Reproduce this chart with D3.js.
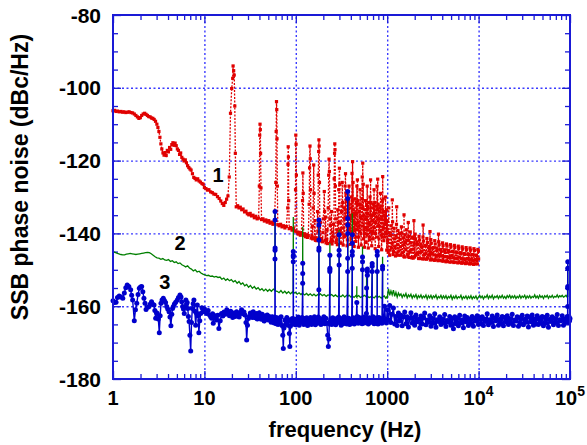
<!DOCTYPE html>
<html><head><meta charset="utf-8">
<script src="https://cdn.jsdelivr.net/npm/d3@7"></script>
<style>
body{margin:0;background:#fff}
svg{display:block}
text{font-family:"Liberation Sans",Arial,Helvetica,sans-serif;font-weight:bold;fill:#000}
</style>
</head><body>
<svg id="chart" width="587" height="445"></svg>
<script>
// ---------- axis definitions ----------
const xTickValues = [1, 10, 100, 1000, 1e4, 1e5];
const xTickLabels = ["1", "10", "100", "1000", "10^4", "10^5"];
const yTickValues = [-180, -160, -140, -120, -100, -80];
const xTitle = "frequency (Hz)";
const yTitle = "SSB phase noise (dBc/Hz)";
const seriesNames = ["1", "2", "3"];

// ---------- series 1 (red) ----------
const redLow = [
[1.00,-106.3],[1.04,-106.2],[1.08,-106.5],[1.12,-106.4],[1.17,-106.6],[1.22,-106.5],[1.27,-106.7],[1.32,-106.6],[1.38,-106.8],[1.44,-106.7],
[1.50,-106.6],[1.57,-106.8],[1.64,-106.9],[1.71,-107.2],[1.78,-107.6],[1.85,-108.0],[1.92,-108.4],[1.99,-108.2],[2.06,-107.6],[2.14,-107.2],
[2.22,-107.0],[2.30,-107.3],[2.38,-107.6],[2.46,-107.9],[2.55,-108.0],[2.64,-108.3],[2.73,-108.4],[2.82,-108.7],[2.92,-109.2],[3.02,-110.0],
[3.10,-110.9],[3.18,-112.0],[3.26,-113.6],[3.34,-115.4],[3.42,-116.8],[3.52,-117.9],[3.62,-118.5],[3.72,-117.8],[3.82,-118.6],[3.93,-117.2],
[4.04,-117.6],[4.16,-116.4],[4.28,-116.9],[4.40,-115.6],[4.52,-115.1],[4.65,-115.8],[4.78,-115.2],[4.92,-115.9],[5.06,-116.8],[5.20,-117.2],
[5.35,-118.3],[5.50,-117.9],[5.66,-119.1],[5.83,-119.6],[6.00,-120.1],[6.18,-119.8],[6.36,-120.6],[6.55,-121.4],[6.75,-121.9],[6.95,-122.3],
[7.15,-122.6],[7.40,-123.6],[7.65,-124.6],[7.90,-124.9],[8.15,-125.3],[8.45,-125.0],[8.75,-125.6],[9.05,-125.9],[9.40,-126.3],[9.70,-126.5],
[10.0,-127.4],[10.4,-127.7],[10.8,-128.1],[11.2,-128.0],[11.7,-128.6],[12.2,-128.8],[12.7,-129.2],[13.3,-129.3],[13.9,-129.9],[14.5,-130.4],
[15.1,-131.1],[15.7,-131.8],[16.3,-132.3],[16.9,-131.5],[17.5,-130.6],[18.1,-129.7],[18.7,-124.5],[19.3,-107.0],[19.9,-100.2],[20.4,-97.4],
[20.6,-94.0],[20.9,-95.3],[21.2,-96.5],[21.5,-105.0],[21.8,-118.0],[22.3,-132.7],[23.1,-132.4],[23.9,-133.0],[24.7,-132.8],[25.6,-133.5],
[26.5,-133.3],[27.5,-134.1],[28.5,-133.9],[29.5,-134.6],[30.6,-134.9],[31.7,-134.5],[32.8,-135.2],[34.0,-135.0],[35.2,-135.7],[36.5,-135.3],
[37.8,-136.0],[39.2,-135.8],[39.9,-127.0],[40.3,-113.0],[40.6,-110.0],[40.9,-111.5],[41.2,-118.0],[41.6,-127.5],[42.2,-136.2],[43.7,-136.0],
[45.3,-136.6],[47.0,-136.3],[48.7,-136.9],[50.5,-136.5],[52.3,-137.2],[54.2,-136.9],[56.2,-137.5],[58.3,-137.2],[60.4,-126.0],[61.0,-112.0],
[61.5,-103.8],[61.9,-106.0],[62.3,-114.0],[62.8,-127.0],[63.5,-137.6],[65.8,-137.9],[68.2,-137.5],[70.7,-138.2],[73.3,-137.9],[76.0,-138.5],
[78.8,-138.1],[81.6,-133.0],[82.2,-121.0],[82.6,-116.2],[83.0,-119.0],[83.6,-131.0],[84.7,-138.7],[87.8,-138.4],[91.0,-139.1],[94.3,-138.7],
[97.7,-139.4],[99.3,-128.0],[100.0,-113.0],[100.7,-115.5],[101.5,-124.0]
];
const redMid = [
[103,-139.6],[106,-140.2],[109,-139.7],[112,-140.5],[115,-140.0],[118.5,-131.0],[119.5,-123.4],[120.5,-129.0],[122,-140.6],[125,-140.1],
[128,-140.9],[131,-140.4],[134,-141.1],[137,-140.6],[140,-132.0],[141.5,-122.0],[143,-116.0],[144,-119.5],[145,-128.0],[147,-141.3],
[150,-140.8],[153,-141.5],[155,-133.0],[157,-121.2],[158.5,-129.0],[161,-141.2],[164,-141.9],[167,-141.3],[170,-142.0],[173,-134.0],
[176,-124.0],[178,-117.5],[179,-114.3],[180,-116.0],[181.5,-126.0],[184,-141.6],[188,-142.1],[192,-141.4],[196,-142.3],[200,-136.0],
[205,-128.5],[207,-134.0],[210,-141.9],[214,-142.6],[218,-141.7],[222,-142.8],[226,-133.0],[229,-124.0],[231,-119.6],[233,-123.0],
[236,-136.0],[240,-142.4],[244,-141.6],[249,-142.9],[254,-142.1],[259,-137.5],[263,-125.0],[265.5,-118.0],[267,-115.4],[268.5,-117.0],
[271,-127.0],[275,-142.5],[280,-141.8],[285,-143.1],[290,-137.0],[295,-128.0],[300,-122.1],[303,-126.5],[307,-139.0],[312,-142.7],
[317,-134.0],[322,-126.0],[326,-131.5],[330,-143.2],[335,-141.0],[340,-136.0],[346,-127.0],[350,-123.6],[354,-129.0],[359,-140.5],
[364,-143.4],[369,-138.0],[375,-131.0],[382,-127.0],[388,-133.0],[394,-143.0],[400,-139.5],[406,-130.0],[412,-123.5],[418,-120.3],
[423,-126.0],[429,-137.0],[435,-143.6],[441,-139.0],[447,-134.5],[453,-142.2],[460,-131.5],[466,-127.0],[472,-125.3],[478,-131.0],
[484,-143.8],[490,-138.0],[497,-132.0],[505,-128.0],[512,-135.5],[519,-143.2],[526,-133.0],[533,-124.5],[540,-120.7],[547,-126.5],
[555,-139.0],[563,-143.8],[571,-136.0],[579,-131.0],[588,-142.5],[596,-132.0],[604,-127.0],[612,-133.0],[621,-144.0],[630,-137.5],
[639,-141.8],[648,-130.0],[658,-125.3],[667,-131.5],[677,-143.4],[687,-135.0],[697,-139.5],[707,-132.0],[718,-128.0],[728,-134.5],
[739,-144.2],[750,-137.0],[761,-132.5],[773,-127.0],[787,-125.1],[797,-132.0],[808,-143.6],[820,-138.0],[832,-133.0],[845,-129.0],
[857,-136.0],[870,-144.5],[883,-131.0],[893,-124.4],[905,-130.5],[918,-142.0],[932,-137.5],[946,-134.0],[960,-130.0],[974,-137.0],
[988,-144.6]
];
const redMidExtra = [
[152,-138.0],[162,-136.5],[175,-139.5],[186,-137.0],[198,-139.8],[212,-135.5],[220,-139.0],[238,-137.8],[246,-134.0],[252,-139.6],
[261,-141.0],[273,-136.0],[282,-139.0],[288,-133.5],[293,-140.5],[305,-137.0],[315,-140.0],[320,-132.5],[328,-138.5],[338,-133.0],
[343,-140.8],[352,-135.5],[357,-131.0],[361,-137.5],[367,-141.8],[372,-134.0],[379,-139.0],[385,-132.0],[391,-138.5],[397,-135.0],
[403,-141.5],[409,-136.0],[415,-131.0],[421,-139.5],[426,-133.5],[432,-140.2],[438,-135.0],[444,-130.5],[450,-137.5],[456,-141.0],
[463,-134.5],[469,-139.0],[475,-132.0],[481,-137.0],[487,-141.0],[494,-134.0],[501,-139.5],[508,-132.0],[515,-140.0],[522,-136.0],
[529,-130.5],[536,-138.0],[543,-133.0],[551,-141.5],[559,-135.0],[567,-140.0],[575,-133.5],[584,-138.5],[592,-136.0],[600,-140.5],
[608,-134.5],[617,-139.0],[625,-131.5],[634,-137.0],[643,-141.0],[653,-135.0],[662,-139.5],[672,-133.0],[682,-140.0],[692,-136.5],
[702,-141.5],[712,-134.5],[723,-138.5],[733,-131.5],[744,-140.0],[755,-135.5],[767,-141.0],[780,-133.5],[792,-138.0],[803,-136.0],
[814,-141.5],[826,-134.0],[838,-139.5],[851,-132.5],[863,-140.5],[876,-136.0],[888,-141.0],[899,-134.0],[911,-138.5],[925,-135.0],
[939,-141.0],[953,-136.5],[967,-140.0],[981,-133.5],[994,-139.0]
];
const redBand = [
[1000,-136.5],[1025,-145.2],[1040,-133.0],[1051,-139.8],[1077,-144.6],[1104,-137.9],[1131,-142.7],[1137,-130.8],[1160,-145.8],[1189,-138.6],
[1218,-143.9],[1249,-140.7],[1270,-132.7],[1280,-145.5],[1312,-139.2],[1345,-144.8],[1379,-141.6],[1413,-146.0],[1448,-139.9],[1485,-143.2],
[1522,-146.3],[1528,-134.9],[1560,-140.4],[1599,-144.5],[1639,-141.9],[1680,-146.4],[1700,-137.0],[1722,-140.8],[1765,-145.1],[1809,-142.6],
[1854,-146.7],[1900,-141.2],[1948,-144.3],[1960,-136.5],[1996,-146.5],[2046,-141.5],[2098,-145.6],[2150,-143.0],[2204,-146.9],[2259,-141.8],
[2315,-145.2],[2373,-143.7],[2433,-147.0],[2470,-137.7],[2493,-142.1],[2556,-145.8],[2620,-143.4],[2685,-147.1],[2752,-142.5],[2821,-146.0],
[2892,-144.2],[2940,-139.5],[2964,-147.3],[3038,-142.7],[3114,-145.5],[3192,-143.9],[3271,-147.4],[3353,-142.9],[3437,-146.3],[3523,-144.6],
[3611,-147.5],[3640,-140.2],[3701,-143.1],[3794,-146.0],[3889,-144.8],[3986,-147.6],[4085,-143.3],[4188,-146.4],[4292,-145.0],[4400,-147.8],
[4510,-143.5],[4622,-146.6],[4738,-145.1],[4856,-147.9],[4978,-143.7],[5102,-146.2],[5230,-144.9],[5360,-148.0],[5494,-143.9],[5632,-146.8],
[5773,-145.3],[5917,-148.1],[6065,-144.1],[6217,-146.5],[6372,-145.4],[6531,-148.2],[6695,-144.3],[6862,-147.0],[7034,-145.7],[7209,-148.3],
[7390,-144.5],[7574,-146.9],[7764,-145.8],[7958,-148.4],[8157,-144.6],[8360,-147.1],[8569,-145.9],[8784,-148.5],[9003,-144.7],[9229,-147.2],
[9459,-146.0],[9696,-148.4],[9938,-144.8],[10000,-147.0]
];
const redBandExtra = [
[1012,-142.0],[1064,-146.0],[1090,-140.6],[1117,-144.0],[1145,-136.8],[1174,-145.0],[1203,-141.5],[1233,-146.2],[1264,-137.5],[1296,-143.1],
[1328,-146.0],[1362,-140.0],[1396,-143.7],[1430,-138.2],[1466,-145.3],[1503,-141.2],[1541,-146.5],[1580,-142.6],[1619,-139.0],[1660,-145.7],
[1701,-142.0],[1743,-146.6],[1787,-139.6],[1831,-144.5],[1877,-141.0],[1924,-146.8],[1972,-143.0],[2021,-140.2],[2072,-146.0],[2124,-142.3],
[2177,-145.3],[2231,-140.8],[2287,-146.9],[2344,-142.9],[2403,-144.9],[2463,-141.0],[2524,-147.0],[2588,-143.3],[2652,-145.4],[2718,-141.4],
[2786,-146.8],[2856,-143.6],[2928,-145.6],[3001,-141.7],[3076,-147.2],[3153,-144.1],[3231,-145.9],[3312,-142.0],[3395,-147.3],[3480,-144.0],
[3567,-146.0],[3656,-142.3],[3747,-147.4],[3841,-144.4],[3937,-146.2],[4035,-142.6],[4136,-147.6],[4240,-144.5],[4346,-146.4],[4455,-142.9],
[4566,-147.7],[4680,-144.7],[4797,-146.6],[4917,-143.1],[5040,-147.8],[5166,-145.0],[5295,-146.7],[5427,-143.3],[5563,-147.9],[5702,-145.1],
[5845,-146.9],[5991,-143.5],[6141,-148.0],[6294,-145.3],[6452,-147.0],[6613,-143.7],[6778,-148.1],[6948,-145.5],[7121,-147.2],[7299,-143.9],
[7482,-148.2],[7669,-145.6],[7861,-147.3],[8057,-144.0],[8258,-148.3],[8465,-145.8],[8676,-147.4],[8893,-144.2],[9116,-148.4],[9343,-146.0],
[9577,-147.5],[9816,-144.4]
];

// ---------- series 2 (green) ----------
const greenLow = [
[1.00,-145.0],[1.05,-145.2],[1.10,-145.4],[1.16,-145.6],[1.22,-145.8],[1.28,-145.9],[1.34,-145.9],[1.40,-145.7],[1.47,-145.6],[1.54,-145.5],
[1.62,-145.6],[1.70,-145.7],[1.78,-145.8],[1.87,-145.7],[1.96,-145.6],[2.06,-145.5],[2.16,-145.4],[2.27,-145.3],[2.38,-145.2],[2.50,-145.3],
[2.62,-145.6],[2.75,-146.0],[2.89,-146.4],[3.03,-146.7],[3.18,-146.8],[3.34,-147.1],[3.51,-146.9],[3.68,-147.3],[3.86,-147.4],[4.05,-147.2],
[4.25,-147.7],[4.46,-147.5],[4.68,-148.0],[4.91,-147.8],[5.15,-148.3],[5.40,-148.1],[5.67,-148.6],[5.95,-148.9],[6.24,-149.2],[6.55,-148.9],
[6.87,-149.5],[7.21,-149.8],[7.57,-150.3],[7.94,-150.0],[8.33,-150.6],[8.74,-150.4],[9.17,-150.9],[9.62,-151.2],[10.1,-151.4],[10.6,-151.6],
[11.1,-151.5],[11.6,-151.8],[12.2,-151.7],[12.8,-152.0],[13.4,-151.8],[14.1,-152.1],[14.8,-152.0],[15.5,-152.6],[16.3,-152.3],[17.1,-152.9],
[17.9,-152.5],[18.8,-153.0],[19.7,-152.7],[20.7,-153.3],[21.7,-153.0],[22.8,-153.7],[23.9,-153.2],[25.1,-154.0],[26.3,-153.6],[27.6,-154.4],
[29.0,-154.0],[30.4,-154.8],[31.9,-154.3],[33.5,-155.1],[35.2,-154.6],[36.9,-155.3],[38.7,-154.9],[40.6,-155.6],[42.6,-155.2],[44.7,-155.8],
[46.9,-155.3],[49.2,-155.9],[51.6,-155.4],[54.1,-155.9],[56.8,-155.3],[59.0,-155.7],[59.3,-134.5],[59.6,-155.8],[62.5,-155.9],[65.6,-156.3],
[68.8,-155.7],[72.2,-156.4],[75.7,-155.9],[79.4,-156.5],[83.3,-156.0],[87.4,-156.6],[91.7,-156.1],[93.6,-156.4],[93.9,-135.5],[94.2,-156.5],
[98.7,-156.2],[103.5,-156.7],[108.6,-156.3],[113.9,-156.8],[118.7,-156.4],[119.0,-138.2],[119.3,-156.5],[125,-156.9],[131,-156.5],[137,-157.0],
[144,-156.6],[151,-157.1],[158,-156.7],[166,-157.2],[174,-156.8],[178.7,-156.9],[179,-135.9],[179.3,-157.0],[186,-156.6],[195,-157.1],
[205,-156.8],[215,-157.3],[225,-156.9],[235.7,-157.0],[236,-142.7],[236.3,-157.1],[247,-156.8],[259,-157.3],[272,-156.9],[285,-157.4],
[297.7,-157.0],[298,-139.0],[298.3,-157.1],[312,-157.4],[327,-156.9],[343,-157.5],[359,-157.0],[369.7,-157.2],[370,-129.0],[370.3,-157.3],
[385,-157.0],[401,-157.5],[414.7,-157.1],[415,-134.5],[415.3,-157.2],[434,-157.6],[455,-157.1],[464.7,-157.5],[465,-154.5],[465.3,-157.4],
[487,-157.1],[510,-157.6],[536.7,-157.3],[537,-143.6],[537.3,-157.4],[563,-157.0],[594.7,-157.5],[595,-152.0],[595.3,-157.4],[606.7,-157.3],
[607,-150.0],[607.3,-157.4],[640,-157.6],[684.7,-157.2],[685,-148.2],[685.3,-157.4],[720,-157.7],[750,-157.2],[777.7,-157.5],[778,-145.5],
[778.3,-157.6],[820,-157.3],[860,-157.8],[889.7,-157.4],[890,-146.4],[890.3,-157.5],[930,-157.2],[960,-157.8],[990,-157.4]
];

// shared frequency bins of the 1 kHz - 94 kHz record (series 2 and 3)
const hfFreq = [
1000,1032,1065,1099,1134,1170,1208,1246,1286,1327,1370,
1414,1459,1506,1554,1603,1655,1708,1762,1818,1877,1937,1999,
2063,2129,2197,2267,2340,2414,2492,2571,2654,2739,2826,
2917,3010,3106,3206,3308,3414,3523,3636,3752,3872,3996,
4124,4256,4392,4532,4677,4827,4981,5141,5305,5475,5650,
5831,6017,6210,6408,6613,6825,7043,7269,7501,7741,7989,
8244,8508,8780,9061,9351,9650,9959,10277,10606,10946,
11296,11658,12031,12416,12813,13223,13646,14083,14533,14998,
15478,15974,16485,17012,17557,18118,18698,19296,19914,20551,
21209,21887,22588,23311,24057,24826,25621,26441,27287,
28160,29061,29991,30951,31941,32963,34018,35107,36230,
37390,38586,39821,41095,42410,43767,45168,46613,48105,
49644,51233,52872,54564,56310,58112,59972,61891,63871,
65915,68025,70201,72448,74766,77159,79628,82176,84805,
87519,90320,93210,94000
];
const greenHF = [
-157.9,-155.2,-157.0,-155.8,-156.9,-155.6,-157.3,-156.2,-157.5,-156.4,-157.1,
-156.6,-157.6,-156.8,-157.3,-156.5,-157.7,-156.9,-157.4,-156.7,-157.8,-157.0,-157.5,
-156.8,-157.9,-157.1,-157.6,-156.9,-157.8,-157.2,-157.6,-156.9,-158.0,-157.1,
-157.7,-157.0,-157.9,-157.2,-157.6,-156.9,-158.0,-157.3,-157.7,-157.0,-157.9,
-157.2,-157.8,-157.1,-158.0,-157.3,-157.7,-157.0,-158.1,-157.3,-157.8,-157.1,
-157.9,-157.4,-157.7,-157.0,-158.1,-157.4,-157.8,-157.2,-158.0,-157.3,-157.8,
-157.1,-158.0,-157.4,-157.8,-157.2,-158.1,-157.5,-157.0,-157.7,-157.2,
-158.0,-157.3,-157.6,-156.9,-157.9,-157.2,-157.7,-157.0,-158.0,-157.3,
-157.6,-157.1,-157.9,-157.2,-157.7,-157.0,-157.8,-157.3,-157.9,-157.1,
-157.6,-157.0,-157.8,-157.2,-157.7,-157.1,-157.9,-157.3,-157.7,
-157.0,-157.8,-157.2,-157.6,-157.0,-157.9,-157.2,-157.7,-157.1,
-157.8,-157.3,-157.6,-156.9,-157.7,-157.2,-157.8,-157.0,-157.6,
-157.2,-157.9,-157.1,-157.5,-157.0,-157.8,-157.2,-157.6,-157.0,
-157.7,-157.3,-157.5,-156.9,-157.6,-157.1,-157.4,-157.0,-157.5,
-157.3,-157.0,-157.5,-157.3
];
const greenEnd = [[94300,-152.0],[94400,-147.3],[94500,-150.0],[94600,-157.5]];

// ---------- series 3 (blue) ----------
const blueLow = [
[1.00,-158.5],[1.04,-159.0],[1.08,-158.9],[1.12,-157.6],[1.17,-157.2],[1.22,-157.5],[1.28,-157.8],[1.33,-156.4],[1.38,-154.9],[1.43,-154.2],
[1.49,-154.6],[1.56,-155.5],[1.60,-157.0],[1.64,-158.3],[1.71,-164.0],[1.76,-161.0],[1.82,-159.2],[1.88,-156.8],[1.94,-155.1],[2.00,-154.7],
[2.06,-154.6],[2.12,-156.0],[2.18,-157.8],[2.24,-159.2],[2.30,-160.9],[2.40,-160.3],[2.48,-160.1],[2.56,-159.4],[2.64,-158.8],[2.74,-159.5],
[2.81,-159.7],[2.87,-161.2],[2.93,-163.3],[2.99,-161.8],[3.05,-162.0],[3.13,-163.5],[3.21,-167.3],[3.28,-162.6],[3.35,-159.2],[3.44,-158.3],
[3.55,-157.8],[3.65,-158.4],[3.76,-159.0],[3.87,-160.1],[3.97,-160.8],[4.10,-161.5],[4.20,-163.0],[4.30,-165.4],[4.40,-162.2],[4.48,-160.6],
[4.57,-160.1],[4.70,-159.4],[4.85,-158.9],[5.05,-158.3],[5.20,-157.6],[5.40,-156.9],[5.55,-157.5],[5.65,-158.8],[5.78,-160.1],[5.90,-160.8],
[6.02,-162.0],[6.15,-160.2],[6.28,-158.3],[6.38,-159.4],[6.48,-159.0],[6.58,-160.6],[6.68,-162.8],[6.80,-164.2],[6.94,-168.0],[7.08,-172.3],
[7.23,-164.5],[7.38,-160.6],[7.53,-159.3],[7.68,-158.3],[7.85,-161.4],[8.03,-165.2],[8.20,-161.9],[8.37,-159.7],[8.53,-162.6],[8.70,-167.3],
[8.90,-164.0],[9.10,-162.0],[9.40,-160.4],[9.70,-161.5],[10.0,-160.7],[10.3,-161.3],[10.6,-162.0],[11.0,-161.2],[11.4,-162.4],[11.7,-162.9],
[12.0,-163.3],[12.3,-162.1],[12.5,-164.7],[12.9,-163.1],[13.2,-162.6],[13.6,-163.8],[14.0,-162.5],[14.4,-166.1],[14.9,-164.0],[15.4,-162.0],
[15.9,-162.7],[16.4,-161.6],[17.0,-162.2],[17.6,-161.0],[18.2,-161.8],[18.8,-162.6],[19.4,-161.4],[19.8,-162.0],[20.4,-163.1],[21.0,-161.9],
[21.7,-162.8],[22.5,-161.5],[23.2,-162.3],[24.0,-163.0],[24.7,-161.7],[25.5,-161.0],[26.3,-162.1],[27.1,-161.6],[27.8,-162.4],[28.5,-164.5],
[29.0,-169.3],[29.6,-165.2],[30.3,-163.4],[31.0,-162.8],[31.8,-161.9],[32.6,-162.6],[33.4,-163.1],[34.2,-161.5],[35.1,-162.3],[36.0,-163.2],
[36.9,-162.0],[37.9,-163.5],[38.8,-162.8],[39.8,-161.8],[40.8,-162.9],[41.9,-163.6],[42.9,-162.2],[44.0,-163.3],[45.1,-164.1],[46.3,-162.7],
[47.5,-163.5],[48.7,-162.4],[49.9,-163.8],[51.2,-162.8],[52.5,-163.4],[53.8,-164.4],[55.2,-162.9],[56.6,-163.7],[58.0,-164.6],[59.0,-163.0],
[59.2,-147.0],[59.25,-144.6],[59.3,-136.3],[59.32,-134.0],[59.4,-144.0],[59.5,-163.5],[61.0,-164.8],[62.5,-163.2],[64.0,-165.0],[65.6,-163.6],
[67.3,-164.5],[69.0,-162.9],[70.7,-165.3],[72.0,-168.0],[73.0,-171.6],[74.2,-166.0],[76.0,-163.8],[77.9,-164.9],[79.8,-163.1],[81.8,-165.2],
[83.8,-163.7],[85.0,-167.5],[86.0,-171.1],[87.2,-165.5],[89.3,-164.2],[91.5,-163.4],[93.6,-164.9],[93.8,-147.8],[93.85,-146.4],[93.9,-145.0],
[94.0,-146.0],[94.2,-164.3],[96.5,-163.5],[98.9,-165.1],
[101.3,-163.6],[103.8,-164.7],[106.4,-163.0],[109.0,-165.2],[111.7,-163.7],[114.5,-164.4],[117.3,-163.1],[118.9,-153.7],[119.0,-151.0],[119.1,-148.2],
[119.3,-164.2],[122.2,-165.0],[125.2,-163.4],[128.3,-164.8],[131.5,-163.2],[134.7,-165.3],[138.0,-163.8],[141.5,-164.6],[145.0,-163.1],[148.6,-165.0],
[152.3,-163.6],[156.0,-164.3],[159.9,-162.9],[163.8,-165.1],[167.9,-163.5],[172.0,-164.7],[176.3,-163.0],[178.8,-155.5],[178.9,-144.6],[178.95,-141.8],
[179.0,-137.7],[179.1,-136.3],[179.2,-144.0],[179.4,-164.5],[183.8,-163.4],[188.4,-165.0],[193.0,-163.7],[197.8,-164.3],[202.7,-162.9],[207.7,-164.8],
[212.9,-163.3],[218.1,-164.6],[223.5,-168.0],[227.0,-171.1],[230.0,-169.0],[232.5,-164.9],[235.5,-150.5],[235.8,-149.6],[236.0,-146.0],[236.3,-150.0],
[236.7,-164.2],[241.7,-163.5],[247.7,-165.0],[253.8,-163.2],[260.1,-164.7],[266.6,-163.6],[273.2,-165.1],[280.0,-163.4],[286.9,-164.5],[294.0,-163.0],
[297.7,-148.7],[297.8,-144.6],[298.0,-140.4],[298.2,-146.0],[298.5,-164.4],[305.9,-163.3],[313.5,-165.2],[321.3,-163.6],[329.2,-164.8],[337.4,-162.9],
[345.7,-164.5],[354.3,-163.4],[362.0,-164.9],[369.5,-150.5],[369.6,-146.8],[369.7,-137.7],[369.8,-135.9],[369.9,-130.4],[370.0,-128.5],[370.3,-140.0],
[370.6,-164.1],[379.5,-163.3],[388.9,-165.0],[398.6,-163.6],[408.5,-164.3],[414.5,-149.6],[414.7,-146.0],[414.9,-142.7],[415.0,-140.4],[415.2,-145.0],
[415.6,-164.6],[426.0,-163.2],[436.6,-164.9],[447.4,-163.5],[458.5,-164.2],[465.0,-159.0],[469.8,-162.8],[481.5,-164.7],[493.4,-163.1],[505.7,-164.4],
[518.2,-163.5],[531.0,-164.8],[536.6,-150.0],[536.8,-147.8],[537.0,-146.5],[537.3,-164.2],[550.3,-163.0],[563.9,-164.6],[577.9,-163.4],[592.2,-162.0],
[595.0,-155.0],[600.0,-163.9],[606.6,-151.5],[606.8,-150.5],[607.0,-149.8],[607.4,-163.6],[621.6,-164.9],[637.0,-163.2],[652.8,-164.5],[669.0,-163.7],
[684.6,-150.5],[684.8,-149.0],[685.0,-148.3],[685.4,-164.3],[702.3,-162.9],[719.7,-164.8],[737.6,-163.3],[755.8,-164.6],[774.5,-163.5],[777.6,-150.5],
[777.8,-146.0],[778.0,-145.0],[778.4,-163.2],[793.7,-164.9],[813.4,-163.1],[833.5,-164.4],[854.1,-163.6],[875.3,-164.7],[889.6,-149.8],[889.8,-149.0],
[890.2,-163.4],[912.0,-164.1],[935.0,-160.0],[958.0,-163.8],[980.0,-164.6]
];
const blueHF = [
-161.0,-163.8,-159.8,-164.5,-162.2,-160.5,-164.9,-162.8,-165.3,-161.9,-164.1,
-162.5,-165.4,-163.0,-161.6,-164.8,-162.9,-165.7,-163.4,-161.8,-164.6,-163.1,-165.2,
-162.4,-164.3,-163.6,-166.0,-162.7,-164.9,-163.2,-161.9,-165.1,-163.8,-164.4,
-162.6,-165.5,-163.3,-164.7,-162.1,-165.8,-163.7,-164.2,-162.9,-165.0,-163.5,
-164.6,-162.3,-165.6,-163.9,-164.4,-162.8,-165.2,-163.4,-166.2,-162.9,-164.8,
-163.3,-165.4,-162.5,-164.6,-163.8,-165.9,-162.7,-164.3,-163.1,-165.3,-163.6,
-164.7,-162.8,-165.5,-163.4,-164.1,-162.6,-165.0,-163.2,-164.8,-162.9,
-165.3,-163.5,-164.2,-162.1,-165.1,-163.7,-164.5,-162.7,-165.6,-163.3,
-164.0,-162.4,-165.2,-163.6,-164.7,-162.8,-165.4,-163.1,-164.3,-162.6,
-165.0,-163.4,-164.6,-162.2,-165.3,-163.8,-164.1,-162.9,-165.5,
-163.2,-164.8,-162.5,-165.1,-163.6,-164.4,-162.7,-165.7,-163.0,
-164.3,-162.4,-165.2,-163.5,-164.9,-162.6,-165.0,-163.3,-164.6,
-162.8,-165.4,-163.1,-164.7,-162.5,-165.8,-163.6,-164.2,-162.9,
-165.1,-163.4,-164.5,-162.3,-165.3,-163.7,-164.0,-162.6,-165.2,
-163.5,-164.4,-162.8,-164.0
];
const blueEnd = [[94300,-160.1],[94400,-154.6],[94450,-149.6],[94500,-147.8],[94600,-155.0],[94800,-163.2],[96000,-164.5],[97500,-162.9],[99000,-164.0],[100000,-163.4]];

// ---------- assemble ----------
const series1 = d3.sort(redLow.concat(redMid, redMidExtra, redBand, redBandExtra), d => d[0]);
const series2 = greenLow.concat(d3.zip(hfFreq, greenHF), greenEnd);
const series3 = blueLow.concat(d3.zip(hfFreq, blueHF), blueEnd);

// ---------- layout ----------
const M = {left: 113, right: 570, top: 15, bottom: 379};
const svg = d3.select("#chart");
const x = d3.scaleLog().domain([1, 1e5]).range([M.left, M.right]);
const y = d3.scaleLinear().domain([-180, -80]).range([M.bottom, M.top]);

const frameColor = "#1a1ad6";
const gridColor = "#3a3aff";

// grid
const grid = svg.append("g");
grid.append("g").attr("transform", `translate(0,${M.bottom})`)
  .call(d3.axisBottom(x).tickValues(xTickValues.slice(1, -1)).tickSize(-(M.bottom - M.top)).tickFormat(""))
  .call(g => g.select(".domain").remove());
grid.append("g").attr("transform", `translate(${M.left},0)`)
  .call(d3.axisLeft(y).tickValues(yTickValues.slice(1, -1)).tickSize(-(M.right - M.left)).tickFormat(""))
  .call(g => g.select(".domain").remove());
grid.selectAll("line").attr("stroke", gridColor).attr("stroke-width", 1.4).attr("stroke-dasharray", "2,2.5");

// minor ticks
const minorX = [];
for (let d = 1; d < 1e5; d *= 10) for (let k = 2; k <= 9; k++) minorX.push(d * k);
const minorY = d3.range(-175, -80, 5).filter(v => v % 20 !== 0);
const ticks = svg.append("g");
ticks.append("g").attr("transform", `translate(0,${M.bottom})`).call(d3.axisBottom(x).tickValues(minorX).tickSize(-5).tickFormat(""));
ticks.append("g").attr("transform", `translate(0,${M.top})`).call(d3.axisTop(x).tickValues(minorX).tickSize(-5).tickFormat(""));
ticks.append("g").attr("transform", `translate(0,${M.bottom})`).call(d3.axisBottom(x).tickValues(xTickValues).tickSize(-8).tickFormat(""));
ticks.append("g").attr("transform", `translate(0,${M.top})`).call(d3.axisTop(x).tickValues(xTickValues).tickSize(-8).tickFormat(""));
ticks.append("g").attr("transform", `translate(${M.left},0)`).call(d3.axisLeft(y).tickValues(minorY).tickSize(-5).tickFormat(""));
ticks.append("g").attr("transform", `translate(${M.right},0)`).call(d3.axisRight(y).tickValues(minorY).tickSize(-5).tickFormat(""));
ticks.append("g").attr("transform", `translate(${M.left},0)`).call(d3.axisLeft(y).tickValues(yTickValues).tickSize(-8).tickFormat(""));
ticks.append("g").attr("transform", `translate(${M.right},0)`).call(d3.axisRight(y).tickValues(yTickValues).tickSize(-8).tickFormat(""));
ticks.selectAll(".domain").remove();
ticks.selectAll("line").attr("stroke", frameColor).attr("stroke-width", 1.3);

// ---------- data ----------
const line = d3.line().x(d => x(d[0])).y(d => y(d[1]));
const plot = svg.append("g");

// series 1: red dotted with small markers
plot.append("path").datum(series1).attr("d", line)
  .attr("fill", "none").attr("stroke", "#e00000").attr("stroke-width", 1.3).attr("stroke-dasharray", "2,1.5");
plot.append("g").selectAll("rect").data(series1).join("rect")
  .attr("x", d => x(d[0]) - 1.6).attr("y", d => y(d[1]) - 1.6).attr("width", 3.2).attr("height", 3.2).attr("fill", "#e00000");

// series 2: green solid
plot.append("path").datum(series2).attr("d", line)
  .attr("fill", "none").attr("stroke", "#007f00").attr("stroke-width", 1.3);

// series 3: blue solid with round markers
plot.append("path").datum(series3).attr("d", line)
  .attr("fill", "none").attr("stroke", "#0000cc").attr("stroke-width", 1.4);
plot.append("g").selectAll("circle").data(series3).join("circle")
  .attr("cx", d => x(d[0])).attr("cy", d => y(d[1])).attr("r", 2.5).attr("fill", "#0000cc");

// frame
svg.append("rect").attr("x", M.left).attr("y", M.top).attr("width", M.right - M.left).attr("height", M.bottom - M.top)
  .attr("fill", "none").attr("stroke", frameColor).attr("stroke-width", 2);

// tick labels
svg.append("g").selectAll("text").data(yTickValues).join("text")
  .attr("x", 101).attr("y", d => y(d)).attr("dy", "0.36em").attr("text-anchor", "end")
  .style("font-size", "21px").text(d => d);

const xl = svg.append("g").selectAll("text").data(xTickValues).join("text")
  .attr("x", d => x(d)).attr("y", 405).attr("text-anchor", "middle").style("font-size", "20px");
xl.each(function(d, i) {
  const lab = xTickLabels[i];
  const t = d3.select(this);
  if (lab.includes("^")) {
    const [b, e] = lab.split("^");
    t.append("tspan").text(b);
    t.append("tspan").attr("dy", -9).style("font-size", "14px").text(e);
  } else t.text(lab);
});

// axis titles
svg.append("text").attr("x", 345).attr("y", 437).attr("text-anchor", "middle").style("font-size", "22px").text(xTitle);
svg.append("text").attr("transform", "translate(28,177) rotate(-90)").attr("text-anchor", "middle").style("font-size", "23px").text(yTitle);

// series labels (frequency, level of label centre)
const labelPos = [[14.1, -124.0], [5.41, -142.7], [3.7, -153.3]];
svg.append("g").selectAll("text").data(seriesNames).join("text")
  .attr("x", (d, i) => x(labelPos[i][0])).attr("y", (d, i) => y(labelPos[i][1])).attr("dy", "0.36em")
  .attr("text-anchor", "middle").style("font-size", "20px").text(d => d);
</script>
</body></html>
